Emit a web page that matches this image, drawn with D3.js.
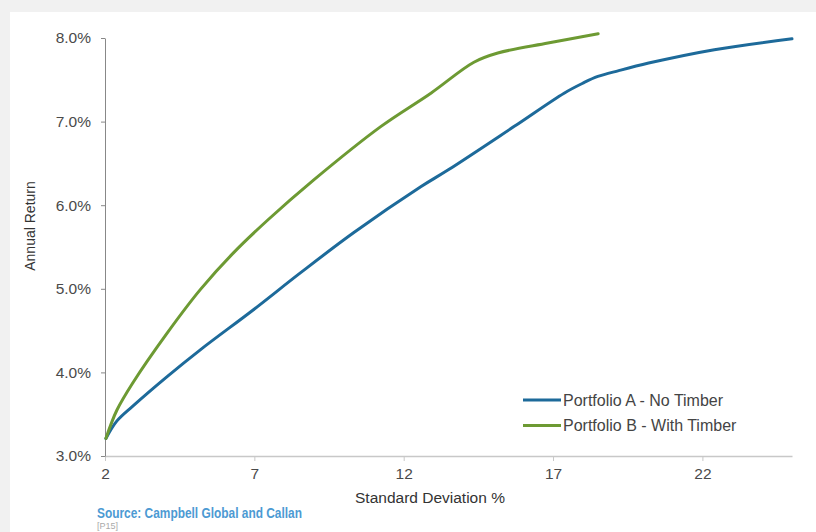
<!DOCTYPE html>
<html>
<head>
<meta charset="utf-8">
<script src="https://cdn.jsdelivr.net/npm/d3@7"></script>
<style>
  html, body { margin: 0; padding: 0; background: #f1f1f1; }
  svg { display: block; }
  text { font-family: "Liberation Sans", Arial, sans-serif; }
</style>
</head>
<body>
<svg id="chart" width="816" height="532"></svg>
<script>
// Efficient frontier: standard deviation (%) vs annual return (%)
const portfolioASd  = [2.03, 2.4, 2.94, 4.08, 5.19, 6.97, 8.54, 10.32, 12.57, 13.48, 15.69, 17.37, 18.0, 18.5, 19.2, 20.2, 22.4, 25.0];
const portfolioARet = [3.21, 3.42, 3.60, 3.95, 4.27, 4.75, 5.19, 5.67, 6.22, 6.42, 6.94, 7.34, 7.46, 7.54, 7.61, 7.70, 7.86, 7.99];

const portfolioBSd  = [2.03, 2.4, 2.94, 4.08, 5.19, 6.30, 7.44, 8.98, 11.23, 12.91, 14.35, 15.15, 16.83, 18.51];
const portfolioBRet = [3.21, 3.55, 3.88, 4.47, 4.99, 5.43, 5.82, 6.30, 6.94, 7.34, 7.71, 7.82, 7.94, 8.05];

const xTicks = [2, 7, 12, 17, 22];
const yTicks = [3, 4, 5, 6, 7, 8];

const seriesNames = ["Portfolio A - No Timber", "Portfolio B - With Timber"];
const seriesColors = ["#1d6a9a", "#6d9a33"];

const svg = d3.select("#chart");

// white panel inside the light grey frame
svg.append("rect").attr("x", 10).attr("y", 12).attr("width", 806).attr("height", 520).attr("fill", "#ffffff");

const x = d3.scaleLinear().domain([2, 25]).range([105, 792]);
const y = d3.scaleLinear().domain([3, 8]).range([456, 38]);

// x axis
const xAxis = svg.append("g").attr("transform", `translate(0,${y(3)})`)
  .call(d3.axisBottom(x).tickValues(xTicks).tickFormat(d3.format("d")).tickSize(5).tickSizeOuter(0));
xAxis.select(".domain").attr("stroke", "#c8c8c8").attr("stroke-width", 1.5);
xAxis.selectAll(".tick line").attr("stroke", "#c8c8c8");
xAxis.selectAll(".tick text").attr("fill", "#4a4a4a").attr("font-size", 15.5).attr("dy", "0.95em");

// y axis
const yAxis = svg.append("g").attr("transform", `translate(${x(2)},0)`)
  .call(d3.axisLeft(y).tickValues(yTicks).tickFormat(d => d.toFixed(1) + "%").tickSize(4).tickSizeOuter(0));
yAxis.select(".domain").attr("stroke", "#888").attr("stroke-width", 1);
yAxis.selectAll(".tick line").attr("stroke", "#888");
yAxis.selectAll(".tick text").attr("fill", "#4a4a4a").attr("font-size", 15.5).attr("x", -14);

// axis titles
svg.append("text").attr("x", 430).attr("y", 503).attr("text-anchor", "middle")
  .attr("font-size", 15.5).attr("fill", "#333").text("Standard Deviation %");
svg.append("text").attr("transform", `translate(35,${226}) rotate(-90)`)
  .attr("text-anchor", "middle").attr("font-size", 14).attr("fill", "#333").text("Annual Return");

// frontier lines
const line = d3.line().x(d => x(d[0])).y(d => y(d[1])).curve(d3.curveCatmullRom.alpha(0.5));
const seriesData = [
  d3.zip(portfolioASd, portfolioARet),
  d3.zip(portfolioBSd, portfolioBRet)
];
seriesData.forEach((pts, i) => {
  svg.append("path").datum(pts).attr("d", line)
    .attr("fill", "none").attr("stroke", seriesColors[i])
    .attr("stroke-width", 3).attr("stroke-linecap", "round").attr("stroke-linejoin", "round");
});

// legend
seriesNames.forEach((name, i) => {
  const ly = 400 + i * 25.5;
  svg.append("line").attr("x1", 523).attr("x2", 561).attr("y1", ly).attr("y2", ly)
    .attr("stroke", seriesColors[i]).attr("stroke-width", 3);
  svg.append("text").attr("x", 563).attr("y", ly + 5.5).attr("font-size", 16)
    .attr("fill", "#444").text(name);
});

// source note
svg.append("text").attr("x", 97).attr("y", 518)
  .attr("font-weight", "bold").attr("font-size", 14).attr("fill", "#4c9ad3")
  .attr("textLength", 205).attr("lengthAdjust", "spacingAndGlyphs")
  .text("Source: Campbell Global and Callan");
svg.append("text").attr("x", 97).attr("y", 529)
  .attr("font-size", 9).attr("fill", "#aaa").text("[P15]");
</script>
</body>
</html>
